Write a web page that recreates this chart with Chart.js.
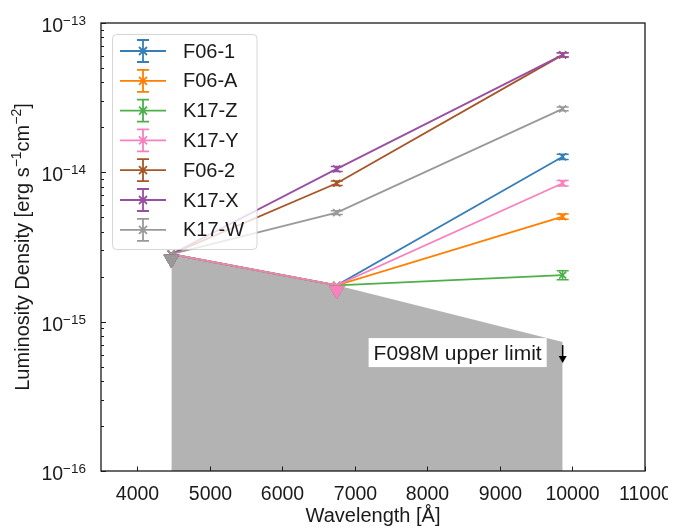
<!DOCTYPE html>
<html>
<head>
<meta charset="utf-8">
<script src="https://cdn.jsdelivr.net/npm/chart.js@4.4.1/dist/chart.umd.min.js"></script>
<style>
html, body { margin: 0; padding: 0; background: #fff; }
#wrap { width: 668px; height: 528px; }
</style>
</head>
<body>
<div id="wrap"><canvas id="c" width="668" height="528"></canvas></div>
<script>
// filter pivot wavelengths (Å)
const wavelengths = [4470, 6750, 9865];

const seriesNames = ['F06-1', 'F06-A', 'K17-Z', 'K17-Y', 'F06-2', 'K17-X', 'K17-W'];
const seriesColors = ['#377eb8', '#ff7f00', '#4daf4a', '#f781bf', '#a65628', '#984ea3', '#999999'];

// luminosity density per series, one value per wavelength
const lumF061 = [2.83e-15, 1.75e-15, 1.27e-14];
const lumF06A = [2.83e-15, 1.75e-15, 5.05e-15];
const lumK17Z = [2.83e-15, 1.75e-15, 2.05e-15];
const lumK17Y = [2.83e-15, 1.75e-15, 8.45e-15];
const lumF062 = [2.83e-15, 8.45e-15, 6.12e-14];
const lumK17X = [2.83e-15, 1.054e-14, 6.12e-14];
const lumK17W = [2.83e-15, 5.37e-15, 2.66e-14];

// 1-sigma errors (0 where the value is an upper limit)
const errF061 = [0, 0, 0.05e-14];
const errF06A = [0, 0, 0.2e-15];
const errK17Z = [0, 0, 0.14e-15];
const errK17Y = [0, 0, 0.35e-15];
const errF062 = [0, 0.3e-15, 0.2e-14];
const errK17X = [0, 0.04e-14, 0.2e-14];
const errK17W = [0, 0.15e-15, 0.08e-14];

// upper-limit triangle markers (null = detection)
const ulF061 = [2.62e-15, 1.62e-15, null];
const ulF06A = [2.62e-15, 1.62e-15, null];
const ulK17Z = [2.62e-15, 1.62e-15, null];
const ulK17Y = [2.62e-15, 1.62e-15, null];
const ulF062 = [2.62e-15, null, null];
const ulK17X = [2.62e-15, null, null];
const ulK17W = [2.62e-15, null, null];

// excluded region under the upper limits
const limitCurve = [2.83e-15, 1.75e-15, 7.3e-16];

const xTicks = [4000, 5000, 6000, 7000, 8000, 9000, 10000, 11000];
const yDecades = [-16, -15, -14, -13];

const lumAll = [lumF061, lumF06A, lumK17Z, lumK17Y, lumF062, lumK17X, lumK17W];
const errAll = [errF061, errF06A, errK17Z, errK17Y, errF062, errK17X, errK17W];
const ulAll = [ulF061, ulF06A, ulK17Z, ulK17Y, ulF062, ulK17X, ulK17W];

const FONT = '"Liberation Sans", Arial, sans-serif';
const AXIS = '#1a1a1a';

const pts = (ys) => wavelengths.map((x, i) => ({ x, y: ys[i] })).filter((p) => p.y != null);

const datasets = [];
datasets.push({
    label: 'limit',
    data: pts(limitCurve),
    fill: 'start',
    backgroundColor: '#b3b3b3',
    borderWidth: 0,
    pointRadius: 0,
    order: 100,
});
seriesNames.forEach((name, i) => {
    datasets.push({
        label: name,
        data: pts(lumAll[i]),
        borderColor: seriesColors[i],
        backgroundColor: seriesColors[i],
        borderWidth: 1.8,
        pointStyle: 'crossRot',
        pointRadius: 5,
        pointBorderWidth: 1.6,
        fill: false,
        tension: 0,
        order: 50 - i,
        errs: errAll[i],
    });
});
seriesNames.forEach((name, i) => {
    datasets.push({
        label: name + ' ul',
        type: 'scatter',
        data: pts(ulAll[i]),
        borderColor: seriesColors[i],
        backgroundColor: seriesColors[i],
        pointStyle: 'triangle',
        rotation: 180,
        pointRadius: 8.5,
        borderWidth: 1,
        order: 20 - i,
    });
});

function runsWidth(ctx, runs, base, sup) {
    let w = 0;
    runs.forEach((r) => {
        ctx.font = (r.sup ? sup : base) + 'px ' + FONT;
        w += ctx.measureText(r.t).width;
    });
    return w;
}
function drawRuns(ctx, runs, x, y, base, sup) {
    runs.forEach((r) => {
        ctx.font = (r.sup ? sup : base) + 'px ' + FONT;
        ctx.fillText(r.t, x, r.sup ? y - base * 0.38 : y);
        x += ctx.measureText(r.t).width;
    });
}

const errorBars = {
    id: 'errorBars',
    afterDatasetsDraw(c) {
        const { ctx, scales: { x, y } } = c;
        ctx.save();
        c.data.datasets.forEach((ds) => {
            if (!ds.errs) return;
            ctx.strokeStyle = ds.borderColor;
            ctx.lineWidth = 1.5;
            ds.data.forEach((p, i) => {
                const e = ds.errs[i];
                if (!e) return;
                const px = x.getPixelForValue(p.x);
                const y0 = y.getPixelForValue(p.y - e);
                const y1 = y.getPixelForValue(p.y + e);
                ctx.beginPath();
                ctx.moveTo(px, y0); ctx.lineTo(px, y1);
                ctx.moveTo(px - 6, y0); ctx.lineTo(px + 6, y0);
                ctx.moveTo(px - 6, y1); ctx.lineTo(px + 6, y1);
                ctx.stroke();
            });
        });
        ctx.restore();
    },
};

const frame = {
    id: 'frame',
    afterDraw(c) {
        const { ctx, chartArea: a, scales: { x, y } } = c;
        ctx.save();
        // annotation for the F098M limit
        const ax = x.getPixelForValue(wavelengths[2]);
        const ay = y.getPixelForValue(limitCurve[2]);
        ctx.font = '21px ' + FONT;
        const label = 'F098M upper limit';
        const tw = ctx.measureText(label).width;
        const bx1 = ax - 16, bx0 = bx1 - tw - 10;
        ctx.fillStyle = '#fff';
        ctx.fillRect(bx0, ay - 4, bx1 - bx0, 29);
        ctx.fillStyle = '#1a1a1a';
        ctx.textBaseline = 'alphabetic';
        ctx.fillText(label, bx0 + 5, ay + 18);
        ctx.strokeStyle = '#000';
        ctx.fillStyle = '#000';
        ctx.lineWidth = 1.5;
        ctx.beginPath();
        ctx.moveTo(ax, ay + 3); ctx.lineTo(ax, ay + 18);
        ctx.stroke();
        ctx.beginPath();
        ctx.moveTo(ax - 4, ay + 14); ctx.lineTo(ax, ay + 21); ctx.lineTo(ax + 4, ay + 14);
        ctx.closePath();
        ctx.fill();

        // spines
        ctx.strokeStyle = AXIS;
        ctx.lineWidth = 1.3;
        ctx.strokeRect(a.left, a.top, a.right - a.left, a.bottom - a.top);

        // x ticks (inward) and labels
        ctx.lineWidth = 1;
        ctx.fillStyle = '#1a1a1a';
        ctx.textAlign = 'center';
        ctx.font = '19.5px ' + FONT;
        xTicks.forEach((t) => {
            const px = Math.round(x.getPixelForValue(t)) + 0.5;
            ctx.beginPath();
            ctx.moveTo(px, a.bottom); ctx.lineTo(px, a.bottom - 4.5);
            ctx.stroke();
            ctx.fillText(String(t), px, 500);
        });
        ctx.font = '20px ' + FONT;
        ctx.fillText('Wavelength [Å]', (a.left + a.right) / 2, 522);

        // y ticks (log, inward) and labels
        ctx.textAlign = 'left';
        yDecades.forEach((d) => {
            const py = Math.round(y.getPixelForValue(Math.pow(10, d))) + 0.5;
            ctx.beginPath();
            ctx.moveTo(a.left, py); ctx.lineTo(a.left + 5, py);
            ctx.stroke();
            if (d < yDecades[yDecades.length - 1]) {
                for (let m = 2; m <= 9; m++) {
                    const my = Math.round(y.getPixelForValue(m * Math.pow(10, d))) + 0.5;
                    ctx.beginPath();
                    ctx.moveTo(a.left, my); ctx.lineTo(a.left + 3, my);
                    ctx.stroke();
                }
            }
            const runs = [{ t: '10' }, { t: '\u2212' + Math.abs(d), sup: true }];
            const w = runsWidth(ctx, runs, 19.5, 13.5);
            drawRuns(ctx, runs, 86 - w, py + 8.5, 19.5, 13.5);
        });

        // y title
        ctx.save();
        ctx.translate(29, (a.top + a.bottom) / 2);
        ctx.rotate(-Math.PI / 2);
        const title = [
            { t: 'Luminosity Density [erg s' }, { t: '\u22121', sup: true },
            { t: 'cm' }, { t: '\u22122', sup: true }, { t: ']' },
        ];
        const ttw = runsWidth(ctx, title, 20, 14);
        drawRuns(ctx, title, -ttw / 2, 0, 20, 14);
        ctx.restore();

        // legend
        const lx = 112.5, ly = 34.5, lw = 144.5, lh = 215;
        ctx.fillStyle = 'rgba(255,255,255,0.8)';
        ctx.strokeStyle = 'rgba(204,204,204,0.8)';
        ctx.beginPath();
        ctx.roundRect(lx, ly, lw, lh, 4);
        ctx.fill();
        ctx.stroke();
        ctx.font = '20px ' + FONT;
        ctx.textBaseline = 'middle';
        seriesNames.forEach((name, i) => {
            const ry = 51 + i * 29.8;
            const col = seriesColors[i];
            ctx.strokeStyle = col;
            ctx.lineWidth = 1.8;
            ctx.beginPath();
            ctx.moveTo(120, ry); ctx.lineTo(166, ry);
            ctx.moveTo(143, ry - 11); ctx.lineTo(143, ry + 11);
            ctx.moveTo(137, ry - 11); ctx.lineTo(149, ry - 11);
            ctx.moveTo(137, ry + 11); ctx.lineTo(149, ry + 11);
            ctx.moveTo(139, ry - 4); ctx.lineTo(147, ry + 4);
            ctx.moveTo(139, ry + 4); ctx.lineTo(147, ry - 4);
            ctx.stroke();
            ctx.fillStyle = '#1a1a1a';
            ctx.fillText(name, 183, ry + 1);
        });
        ctx.restore();
    },
};

new Chart(document.getElementById('c').getContext('2d'), {
    type: 'line',
    data: { datasets },
    options: {
        animation: false,
        responsive: false,
        devicePixelRatio: 1,
        layout: { padding: { left: 101, top: 23, right: 23, bottom: 57 } },
        plugins: { legend: { display: false }, tooltip: { enabled: false } },
        scales: {
            x: { type: 'linear', min: 3500, max: 11000, display: false },
            y: { type: 'logarithmic', min: 1e-16, max: 1e-13, display: false },
        },
    },
    plugins: [errorBars, frame],
});
</script>
</body>
</html>
